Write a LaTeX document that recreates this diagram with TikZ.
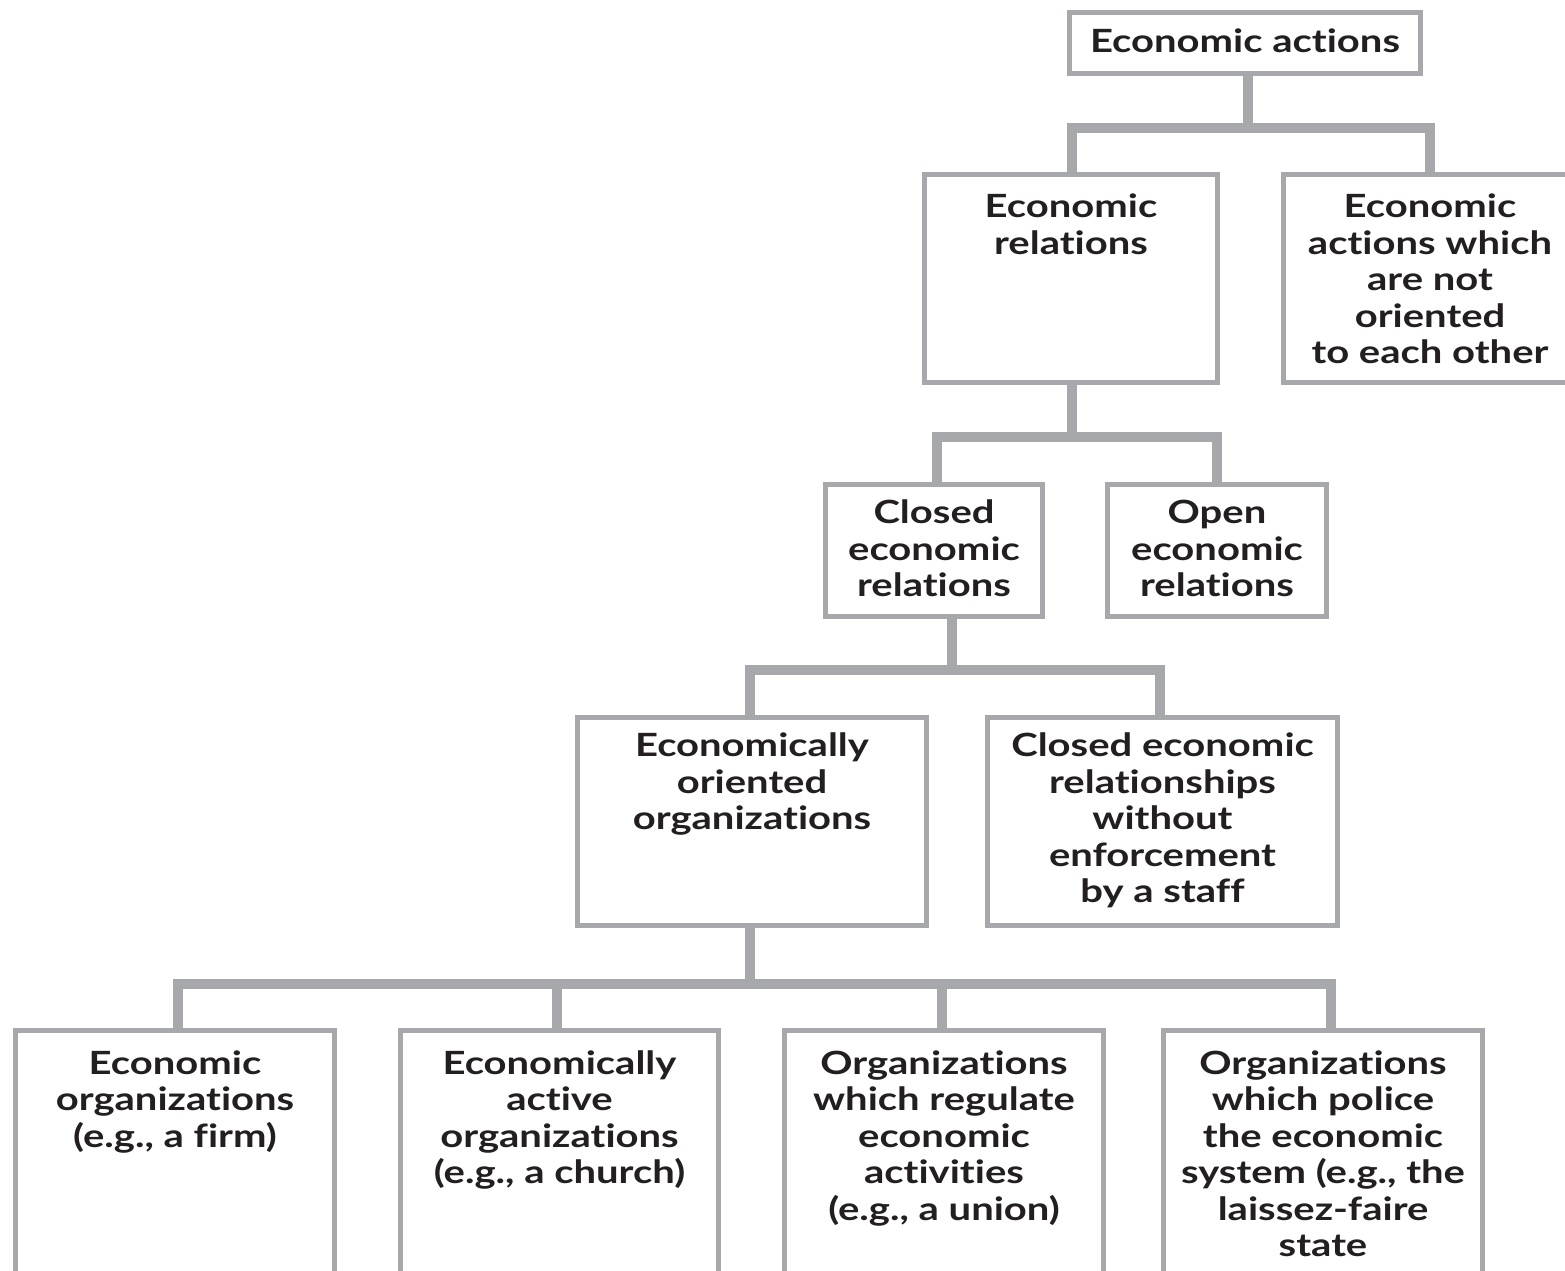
\documentclass[tikz,border=0pt]{standalone}
\usepackage{fontspec}
\setmainfont{Lato}
\newfontfamily\lblfont{Lato}[FakeStretch=1.25, Ligatures=NoCommon]
\usetikzlibrary{calc}
\definecolor{linegray}{HTML}{A7A8AB}
\definecolor{txt}{HTML}{231F20}
\tikzset{
  box/.style={draw=linegray, line width=5pt, rectangle, inner sep=0pt, fill=white},
  lbl/.style={anchor=north, inner sep=0pt, align=center, text=txt,
    font=\lblfont\fontsize{32}{36.4}\selectfont\bfseries,
    execute at begin node={\vphantom{Elh}}},
  conn/.style={draw=linegray, line width=10pt, line join=miter, line cap=butt},
}
\begin{document}
\begin{tikzpicture}[x=1pt,y=-1pt]
\useasboundingbox (0,0) rectangle (1565,1270);
\clip (0,0) rectangle (1565,1270);
% boxes
\node[box, minimum width=351pt, minimum height=61pt] (top) at (1245,43) {};
\node[box, minimum width=293pt, minimum height=208pt] (rel) at (1071,278.5) {};
\node[box, minimum width=293pt, minimum height=208pt] (notor) at (1430,278.5) {};
\node[box, minimum width=217pt, minimum height=132pt] (closed) at (934,550.5) {};
\node[box, minimum width=219pt, minimum height=132pt] (open) at (1217,550.5) {};
\node[box, minimum width=349pt, minimum height=208pt] (eoo) at (752,821.5) {};
\node[box, minimum width=350pt, minimum height=208pt] (cer) at (1162.5,821.5) {};
\node[box, minimum width=319pt, minimum height=277pt] (b1) at (175,1169) {};
\node[box, minimum width=318pt, minimum height=277pt] (b2) at (559.5,1169) {};
\node[box, minimum width=319pt, minimum height=277pt] (b3) at (944,1169) {};
\node[box, minimum width=319pt, minimum height=277pt] (b4) at (1323,1169) {};
% connectors
\draw[conn] ([xshift=3pt]top.south) -- ++(0,51.5) -| ([xshift=0.5pt]rel.north);
\draw[conn] ([xshift=3pt]top.south) -- ++(0,51.5) -| (notor.north);
\draw[conn] ([xshift=0.5pt]rel.south) -- ++(0,52) -| ([xshift=2.5pt]closed.north);
\draw[conn] ([xshift=0.5pt]rel.south) -- ++(0,52) -| (open.north);
\draw[conn] ([xshift=18pt]closed.south) -- ++(0,51) -| ([xshift=-2.5pt]eoo.north);
\draw[conn] ([xshift=18pt]closed.south) -- ++(0,51) -| ([xshift=-2.5pt]cer.north);
\draw[conn] ([xshift=-2.5pt]eoo.south) -- ++(0,56) -| ([xshift=3pt]b1.north);
\draw[conn] ([xshift=-2.5pt]eoo.south) -- ++(0,56) -| ([xshift=-2.5pt]b2.north);
\draw[conn] ([xshift=-2.5pt]eoo.south) -- ++(0,56) -| ([xshift=-2pt]b3.north);
\draw[conn] ([xshift=-2.5pt]eoo.south) -- ++(0,56) -| ([xshift=8pt]b4.north);
% labels
\node[lbl, anchor=center] (ttop) at ($(top.center)+(0,-2)$) {Economic actions};
\node[lbl] (trel) at ($(rel.north)+(0,22)$) {Economic\\relations};
\node[lbl] (tnotor) at ($(notor.north)+(0,22)$) {Economic\\actions which\\are not\\oriented\\to each other};
\node[lbl] (tclosed) at ($(closed.north)+(0,18)$) {Closed\\economic\\relations};
\node[lbl] (topen) at ($(open.north)+(0,18)$) {Open\\economic\\relations};
\node[lbl] (teoo) at ($(eoo.north)+(0,18)$) {Economically\\oriented\\organizations};
\node[lbl] (tcer) at ($(cer.north)+(0,18)$) {Closed economic\\relationships\\without\\enforcement\\by a staff};
\node[lbl] (tb1) at ($(b1.north)+(0,22.5)$) {Economic\\organizations\\(e.g., a firm)};
\node[lbl] (tb2) at ($(b2.north)+(0,22.5)$) {Economically\\active\\organizations\\(e.g., a church)};
\node[lbl] (tb3) at ($(b3.north)+(0,22.5)$) {Organizations\\which regulate\\economic\\activities\\(e.g., a union)};
\node[lbl] (tb4) at ($(b4.north)+(0,22.5)$) {Organizations\\which police\\the economic\\system (e.g., the\\laissez-faire\\state};
\end{tikzpicture}
\end{document}
